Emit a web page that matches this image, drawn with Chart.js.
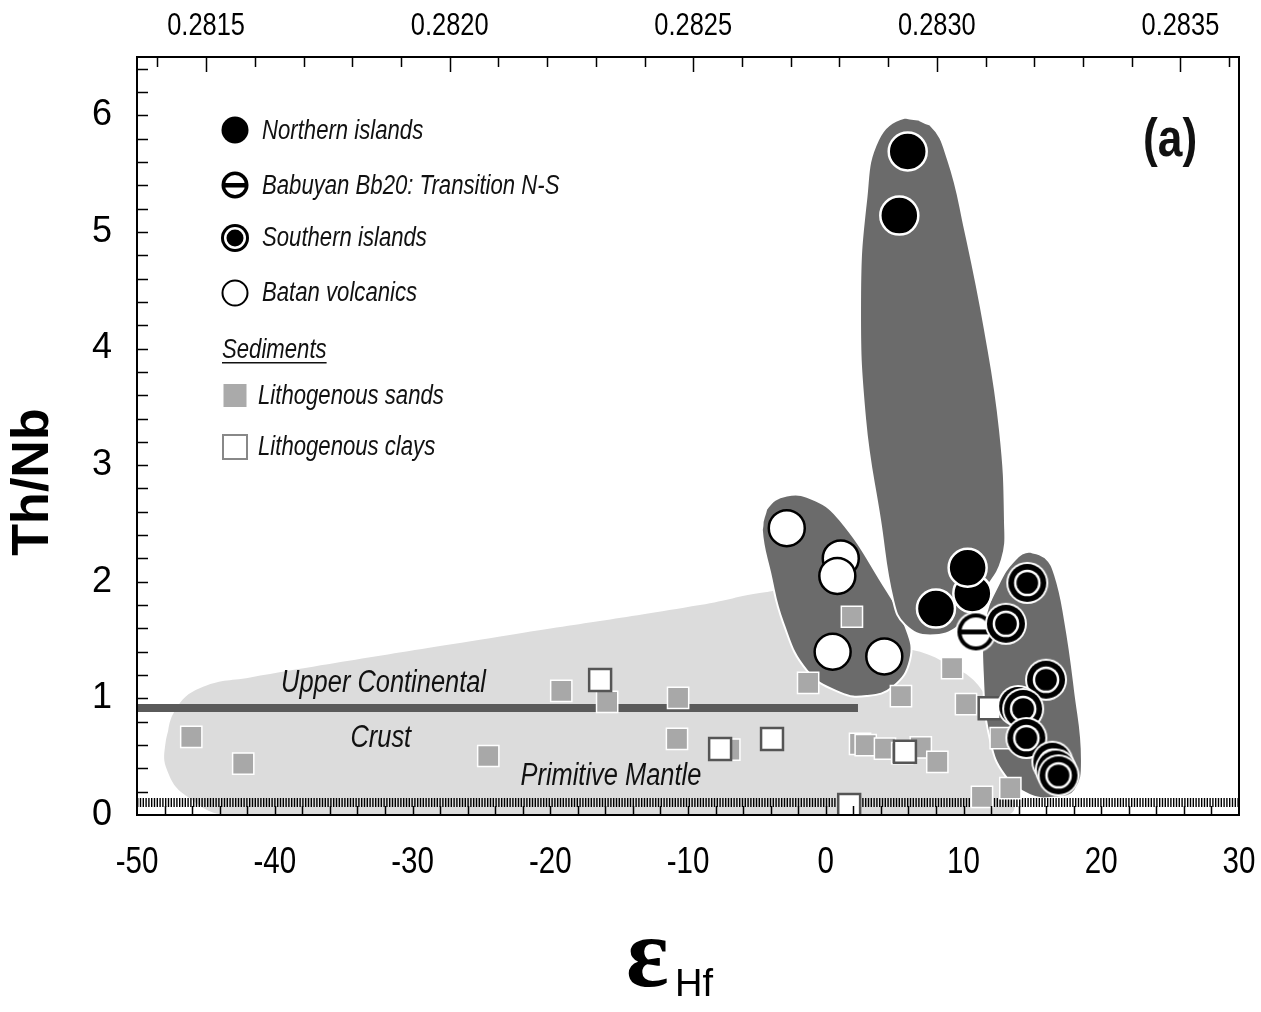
<!DOCTYPE html>
<html>
<head>
<meta charset="utf-8">
<script src="https://cdn.jsdelivr.net/npm/chart.js@4.4.1/dist/chart.umd.min.js"></script>
<style>
body { margin: 0; background: #fff; }
#wrap { width: 1261px; height: 1012px; }
</style>
</head>
<body>
<div id="wrap"><canvas id="chart" width="1261" height="1012"></canvas></div>
<script>
// values (x = eHf, y = Th/Nb)
var northX = [5.95, 5.34, 8.0, 10.64, 10.3];
var northY = [5.69, 5.14, 1.77, 1.90, 2.12];
var babX = [10.9];
var babY = [1.57];
var southX = [14.63, 13.08, 15.99, 13.97, 14.33, 14.56, 16.45, 16.7, 16.9];
var southY = [1.99, 1.64, 1.16, 0.935, 0.91, 0.66, 0.457, 0.39, 0.34];
var batanX = [-2.83, 1.09, 0.84, 0.5, 4.25];
var batanY = [2.46, 2.20, 2.05, 1.40, 1.36];
var sandX = [-46.06, -42.29, -24.5, -19.2, -15.87, -10.72, -10.8, -7.0, -1.28, 1.9, 2.49, 2.9, 4.3, 5.55, 5.46, 6.9, 8.1, 9.17, 10.18, 11.34, 12.7, 13.4];
var sandY = [0.67, 0.44, 0.506, 1.064, 0.97, 1.004, 0.652, 0.56, 1.133, 1.70, 0.61, 0.60, 0.57, 0.53, 1.02, 0.58, 0.455, 1.26, 0.95, 0.155, 0.66, 0.23];
var clayX = [-16.38, -7.67, -3.9, 5.75, 1.7, 11.9];
var clayY = [1.158, 0.566, 0.652, 0.543, 0.086, 0.915];

// reference lines
var uccX = [-50, 2.34];
var uccY = [0.918, 0.918];
var pmX = [-50, 30];
var pmY = [0.107, 0.107];

// field outlines
var sedFieldX = [-47.95, -47.22, -45.41, -41.78, -23.64, -9.13, -4.41, -2.59, 3.94, 8.29, 11.56, 12.65, 13.01, -43.23, -46.49, -47.8];
var sedFieldY = [0.60, 0.90, 1.09, 1.18, 1.53, 1.80, 1.91, 1.91, 1.50, 1.33, 1.03, 0.47, 0.0, 0.0, 0.17, 0.38];
var batFieldX = [-4.64, -4.33, -2.83, -0.78, 1.04, 3.94, 5.88, 6.12, 4.88, 2.97, 1.04, -1.38, -3.1, -4.04];
var batFieldY = [2.445, 2.62, 2.74, 2.70, 2.53, 2.02, 1.59, 1.33, 1.10, 1.02, 1.05, 1.24, 1.65, 2.08];
var norFieldX = [5.76, 7.57, 8.88, 10.11, 11.56, 12.65, 13.01, 12.79, 11.56, 9.75, 7.57, 5.76, 4.89, 3.94, 2.86, 2.49, 2.93, 3.80];
var norFieldY = [5.98, 5.92, 5.62, 5.02, 4.16, 3.30, 2.53, 2.19, 1.93, 1.63, 1.54, 1.63, 1.84, 2.53, 3.39, 4.42, 5.27, 5.79];
var souFieldX = [14.83, 15.92, 16.64, 17.37, 18.09, 18.60, 18.09, 16.64, 14.83, 13.01, 11.93, 11.42, 11.56, 12.5, 13.74];
var souFieldY = [2.26, 2.21, 2.06, 1.67, 1.07, 0.47, 0.21, 0.15, 0.17, 0.34, 0.64, 1.16, 1.67, 1.97, 2.19];

var xTicks = [-50, -40, -30, -20, -10, 0, 10, 20, 30];
var yTicks = [0, 1, 2, 3, 4, 5, 6];
var hfRatios = [0.2815, 0.2820, 0.2825, 0.2830, 0.2835];
var CHUR = 0.282772;

var SANS = '"Liberation Sans", Arial, sans-serif';

function epsHf(r) { return (r / CHUR - 1) * 1e4; }

function pts(xs, ys) {
	return xs.map(function (x, i) { return { x: x, y: ys[i] }; });
}
function loop(xs, ys) {
	var p = pts(xs, ys);
	return p.concat([p[0], p[1]]);
}

// condensed text (no narrow face installed, so squeeze it)
function ntext(ctx, str, x, y, font, align) {
	ctx.save();
	ctx.font = font;
	ctx.textAlign = align || 'center';
	ctx.translate(x, y);
	ctx.scale(0.82, 1);
	ctx.fillText(str, 0, 0);
	var w = ctx.measureText(str).width * 0.82;
	ctx.restore();
	return w;
}

function marker(kind, r, edge) {
	var s = Math.ceil(2 * (r + edge) + 2);
	var c = document.createElement('canvas');
	c.width = s; c.height = s;
	var g = c.getContext('2d');
	var m = s / 2;
	function disk(rad, col) {
		g.beginPath(); g.arc(m, m, rad, 0, 2 * Math.PI); g.fillStyle = col; g.fill();
	}
	if (edge) disk(r + edge, '#fff');
	disk(r, '#000');
	if (kind === 'south') { disk(r * 0.70, '#fff'); disk(r * 0.57, '#000'); }
	if (kind === 'bab') {
		disk(r * 0.78, '#fff');
		g.fillStyle = '#000';
		g.fillRect(m - r * 0.8, m - r * 0.13, r * 1.6, r * 0.26);
	}
	return c;
}

var babPoint = marker('bab', 18.5, 2);
var southPoint = marker('south', 19, 2);

function field(data, color, order, border) {
	return {
		data: data, showLine: true, fill: 'shape', tension: 0.45,
		backgroundColor: color, borderColor: border ? '#fff' : color,
		borderWidth: border ? 2 : 0, pointRadius: 0, order: order
	};
}

var decor = {
	id: 'decor',
	afterDatasetsDraw: function (chart) {
		var ctx = chart.ctx, xs = chart.scales.x, ys = chart.scales.y;
		ctx.save();
		ctx.fillStyle = '#111';
		ctx.textBaseline = 'middle';
		var it = 'italic 31px ' + SANS;
		ntext(ctx, 'Upper Continental', xs.getPixelForValue(-32.1), ys.getPixelForValue(1.13), it);
		ntext(ctx, 'Crust', xs.getPixelForValue(-32.3), ys.getPixelForValue(0.66), it);
		ntext(ctx, 'Primitive Mantle', xs.getPixelForValue(-15.6), ys.getPixelForValue(0.335), it);
		ntext(ctx, '(a)', xs.getPixelForValue(25.0), ys.getPixelForValue(5.78), 'bold 54px ' + SANS);

		// legend
		var lx = 235;
		function disk(x, y, r, col) { ctx.beginPath(); ctx.arc(x, y, r, 0, 2 * Math.PI); ctx.fillStyle = col; ctx.fill(); }
		disk(lx, 130, 13.5, '#000');
		disk(lx, 185, 13.5, '#000'); disk(lx, 185, 10, '#fff');
		ctx.fillStyle = '#000'; ctx.fillRect(lx - 11, 183, 22, 4.5);
		disk(lx, 238, 14, '#000'); disk(lx, 238, 11, '#fff'); disk(lx, 238, 8.5, '#000');
		ctx.beginPath(); ctx.arc(lx, 293, 12.5, 0, 2 * Math.PI);
		ctx.fillStyle = '#fff'; ctx.fill(); ctx.lineWidth = 2; ctx.strokeStyle = '#000'; ctx.stroke();
		ctx.fillStyle = '#aaa'; ctx.fillRect(lx - 11.5, 384, 23, 23);
		ctx.fillStyle = '#fff'; ctx.fillRect(lx - 12, 435, 24, 24);
		ctx.lineWidth = 2; ctx.strokeStyle = '#888'; ctx.strokeRect(lx - 12, 435, 24, 24);

		ctx.fillStyle = '#111';
		var lf = 'italic 27px ' + SANS;
		ntext(ctx, 'Northern islands', 262, 131, lf, 'left');
		ntext(ctx, 'Babuyan Bb20: Transition N-S', 262, 186, lf, 'left');
		ntext(ctx, 'Southern islands', 262, 238, lf, 'left');
		ntext(ctx, 'Batan volcanics', 262, 293, lf, 'left');
		var w = ntext(ctx, 'Sediments', 222, 350, lf, 'left');
		ctx.fillRect(222, 362, w, 1.5);
		ntext(ctx, 'Lithogenous sands', 258, 396, lf, 'left');
		ntext(ctx, 'Lithogenous clays', 258, 447, lf, 'left');
		ctx.restore();
	},
	afterDraw: function (chart) {
		var ctx = chart.ctx, a = chart.chartArea, xs = chart.scales.x, ys = chart.scales.y, x2 = chart.scales.x2;
		ctx.save();
		ctx.strokeStyle = '#000';
		ctx.lineWidth = 1.5;
		ctx.beginPath();
		var v, p;
		for (v = -48; v < 30; v += 2) {
			p = Math.round(xs.getPixelForValue(v)) + 0.5;
			ctx.moveTo(p, a.bottom); ctx.lineTo(p, a.bottom - 9);
		}
		for (v = 1; v <= 32; v++) {
			p = Math.round(ys.getPixelForValue(v * 0.2)) + 0.5;
			ctx.moveTo(a.left, p); ctx.lineTo(a.left + 11, p);
		}
		for (v = 2813; v <= 2837; v++) {
			p = x2.getPixelForValue(epsHf(v / 10000));
			if (p <= a.left + 2 || p >= a.right - 2) continue;
			p = Math.round(p) + 0.5;
			ctx.moveTo(p, a.top); ctx.lineTo(p, a.top + (v % 5 === 0 ? 15 : 10));
		}
		ctx.stroke();
		ctx.lineWidth = 2;
		ctx.strokeRect(a.left, a.top, a.right - a.left, a.bottom - a.top);

		// x tick labels (condensed)
		ctx.fillStyle = '#000';
		ctx.textBaseline = 'middle';
		xs.ticks.forEach(function (t, i) {
			ntext(ctx, String(xTicks[i]), xs.getPixelForValue(t.value), 863, '36px ' + SANS);
		});
		x2.ticks.forEach(function (t, i) {
			ntext(ctx, hfRatios[i].toFixed(4), x2.getPixelForValue(t.value), 26, '31px ' + SANS);
		});

		// axis titles
		ctx.font = 'bold 100px "Liberation Serif", "DejaVu Serif", serif';
		ctx.textAlign = 'left';
		ctx.textBaseline = 'alphabetic';
		ctx.fillText('\u03b5', 626, 986);
		ctx.font = '38px ' + SANS;
		ctx.fillText('Hf', 675, 996);
		ctx.translate(31.5, 482);
		ctx.rotate(-Math.PI / 2);
		ctx.textAlign = 'center';
		ctx.textBaseline = 'middle';
		ctx.font = 'bold 52px ' + SANS;
		ctx.fillText('Th/Nb', 0, 2);
		ctx.restore();
	}
};

function flatX(h) {
	return function (s) { s.height = h; s.paddingLeft = 0; s.paddingRight = 0; };
}

new Chart(document.getElementById('chart'), {
	type: 'scatter',
	data: {
		datasets: [
			{ data: pts(southX, southY), pointStyle: southPoint, order: 7 },
			{ data: pts(babX, babY), pointStyle: babPoint, order: 8 },
			{ data: pts(northX, northY), pointRadius: 19, backgroundColor: '#000', borderColor: '#fff', borderWidth: 2.5, order: 9 },
			{ data: pts(batanX, batanY), pointRadius: 18, backgroundColor: '#fff', borderColor: '#000', borderWidth: 2.5, order: 10 },
			{ data: pts(clayX, clayY), pointStyle: 'rect', pointRadius: 15.5, backgroundColor: '#fff', borderColor: '#555', borderWidth: 2.5, order: 14 },
			{ data: pts(sandX, sandY), pointStyle: 'rect', pointRadius: 15, backgroundColor: '#a8a8a8', borderColor: '#fff', borderWidth: 1.5, order: 15 },
			{ data: pts(uccX, uccY), showLine: true, borderColor: '#5a5a5a', borderWidth: 8, pointRadius: 0, order: 20 },
			{ data: pts(pmX, pmY), showLine: true, borderColor: '#000', borderWidth: 9, borderDash: [1.4, 1.4], pointRadius: 0, order: 20 },
			field(loop(souFieldX, souFieldY), '#6b6b6b', 25, true),
			field(loop(norFieldX, norFieldY), '#6b6b6b', 25, true),
			field(loop(batFieldX, batFieldY), '#6b6b6b', 25, true),
			field(loop(sedFieldX, sedFieldY), '#dcdcdc', 30, false)
		]
	},
	options: {
		responsive: false,
		animation: false,
		events: [],
		layout: { padding: { left: 0, right: 22, top: 0, bottom: 0 } },
		plugins: { legend: { display: false }, tooltip: { enabled: false } },
		scales: {
			x: {
				type: 'linear', position: 'bottom', min: -50, max: 30,
				afterBuildTicks: function (s) { s.ticks = xTicks.map(function (v) { return { value: v }; }); },
				afterFit: flatX(197),
				grid: { display: false, drawTicks: false },
				border: { display: true, color: '#000', width: 2 },
				ticks: { display: false }
			},
			x2: {
				type: 'linear', position: 'top', min: -50, max: 30,
				afterBuildTicks: function (s) { s.ticks = hfRatios.map(function (r) { return { value: epsHf(r) }; }); },
				afterFit: flatX(57),
				grid: { display: false, drawTicks: false },
				border: { display: true, color: '#000', width: 2 },
				ticks: { display: false }
			},
			y: {
				type: 'linear', position: 'left', min: 0, max: 6.5,
				afterBuildTicks: function (s) { s.ticks = yTicks.map(function (v) { return { value: v }; }); },
				afterFit: function (s) { s.width = 137; },
				grid: { display: false, drawTicks: false },
				border: { display: true, color: '#000', width: 2 },
				ticks: { padding: 25, color: '#000', font: { family: SANS, size: 36 } }
			}
		}
	},
	plugins: [decor]
});
</script>
</body>
</html>
